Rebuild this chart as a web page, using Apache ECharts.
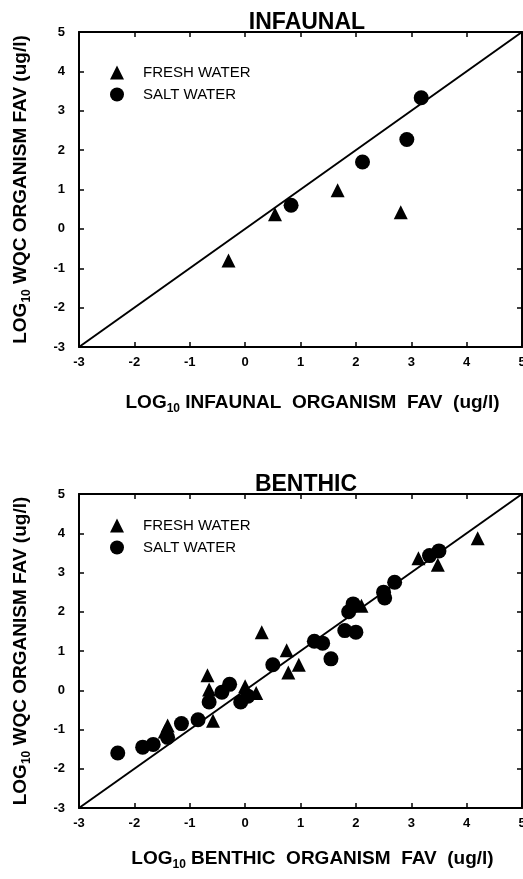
<!DOCTYPE html>
<html>
<head>
<meta charset="utf-8">
<script src="https://cdn.jsdelivr.net/npm/echarts@6/dist/echarts.min.js"></script>
<style>
  html, body { margin: 0; padding: 0; background: #fff; }
  #chart { width: 523px; height: 879px; }
</style>
</head>
<body>
<div id="chart"></div>
<script>
// Log10 final acute values: x = organism FAV, y = water quality criterion FAV
const axisRange = [-3, 5];
const infaunalFresh = [[-0.30, -0.80], [0.54, 0.37], [1.67, 0.98], [2.81, 0.42]];
const infaunalSalt  = [[0.83, 0.60], [2.12, 1.70], [2.92, 2.27], [3.18, 3.33]];
const benthicFresh = [
  [4.20, 3.87], [3.13, 3.36], [3.48, 3.20], [2.10, 2.15], [0.30, 1.48],
  [0.75, 1.02], [0.97, 0.65], [0.78, 0.45], [-0.68, 0.38], [-0.65, 0.02],
  [0.00, 0.10], [0.20, -0.07], [-0.58, -0.78], [-1.40, -0.90], [-1.45, -1.05]
];
const benthicSalt = [
  [3.50, 3.55], [3.33, 3.43], [2.70, 2.75], [2.50, 2.50], [2.52, 2.35],
  [1.95, 2.20], [1.87, 2.00], [1.80, 1.52], [2.00, 1.48], [1.25, 1.25],
  [1.40, 1.20], [1.55, 0.80], [0.50, 0.65], [-0.28, 0.15], [-0.42, -0.05],
  [-0.65, -0.30], [-0.08, -0.30], [0.05, -0.15], [-0.85, -0.75], [-1.15, -0.85],
  [-1.40, -1.20], [-1.66, -1.38], [-1.85, -1.45], [-2.30, -1.60]
];
const unityLine = [[axisRange[0], axisRange[0]], [axisRange[1], axisRange[1]]];
const seriesNames = ['FRESH WATER', 'SALT WATER'];
const panelTitles = ['INFAUNAL', 'BENTHIC'];
const xNames = ['INFAUNAL', 'BENTHIC'];

const FONT = 'Liberation Sans';
const INK = '#000';

const grids = [
  { left: 79, right: 1, top: 32, height: 315, outerBoundsMode: 'none', containLabel: false },
  { left: 79, right: 1, top: 494, height: 314, outerBoundsMode: 'none', containLabel: false }
];

function nameStyle(extra) {
  return Object.assign({
    fontFamily: FONT, fontSize: 19, fontWeight: 'bold', color: INK,
    rich: {
      m: { fontFamily: FONT, fontSize: 19, fontWeight: 'bold', color: INK, lineHeight: 24 },
      sub: { fontFamily: FONT, fontSize: 12, fontWeight: 'bold', color: INK, lineHeight: 24, verticalAlign: 'bottom' }
    }
  }, extra || {});
}

function baseAxis(gridIndex, position, showLabels) {
  return {
    type: 'value', gridIndex: gridIndex, position: position,
    min: axisRange[0], max: axisRange[1], interval: 1,
    axisLine: { show: true, onZero: false, lineStyle: { color: INK, width: 2 } },
    axisTick: { show: true, inside: true, length: 5, lineStyle: { color: INK, width: 1.5 } },
    axisLabel: {
      show: showLabels, fontFamily: FONT, fontSize: 13, fontWeight: 'bold', color: INK
    },
    splitLine: { show: false }
  };
}

const xAxes = [], yAxes = [];
[0, 1].forEach(function (g) {
  const xb = baseAxis(g, 'bottom', true);
  xb.axisLabel.margin = 9;
  xb.name = '{m|LOG}{sub|10}{m| ' + xNames[g] + '  ORGANISM  FAV  (ug/l)}';
  xb.nameLocation = 'middle';
  xb.nameGap = g === 0 ? 44 : 39;
  xb.nameTextStyle = nameStyle({ padding: [0, 0, 0, 24] });
  xAxes.push(xb);
  xAxes.push(baseAxis(g, 'top', false));

  const yl = baseAxis(g, 'left', true);
  yl.axisLabel.margin = 14;
  yl.name = '{m|LOG}{sub|10}{m| WQC ORGANISM FAV (ug/l)}';
  yl.nameLocation = 'middle';
  yl.nameGap = 46;
  yl.nameTextStyle = nameStyle();
  yAxes.push(yl);
  yAxes.push(baseAxis(g, 'right', false));
});

function scatter(name, data, g, symbol, size) {
  return {
    type: 'scatter', name: name, data: data,
    xAxisIndex: g * 2, yAxisIndex: g * 2,
    symbol: symbol, symbolSize: size,
    itemStyle: { color: INK, opacity: 1 },
    emphasis: { disabled: true }
  };
}

const series = [];
[[infaunalFresh, infaunalSalt], [benthicFresh, benthicSalt]].forEach(function (pair, g) {
  series.push({
    type: 'line', data: unityLine, xAxisIndex: g * 2, yAxisIndex: g * 2,
    showSymbol: false, silent: true, lineStyle: { color: INK, width: 2 }, z: 1
  });
  series.push(scatter(seriesNames[0], pair[0], g, 'triangle', 14));
  series.push(scatter(seriesNames[1], pair[1], g, 'circle', 15));
});

function legendAt(top) {
  return {
    data: seriesNames, orient: 'vertical', left: 105, top: top,
    itemWidth: 14, itemHeight: 14, itemGap: 7,
    selectedMode: false,
    textStyle: { fontFamily: FONT, fontSize: 15, color: INK, padding: [0, 0, 0, 14] }
  };
}

const chart = echarts.init(document.getElementById('chart'), null, { renderer: 'canvas' });
chart.setOption({
  backgroundColor: '#fff',
  animation: false,
  title: [
    { text: panelTitles[0], left: 302, top: 6, textAlign: 'center',
      textStyle: { fontFamily: FONT, fontSize: 23, fontWeight: 'bold', color: INK } },
    { text: panelTitles[1], left: 301, top: 468, textAlign: 'center',
      textStyle: { fontFamily: FONT, fontSize: 23, fontWeight: 'bold', color: INK } }
  ],
  legend: [legendAt(60), legendAt(513)],
  grid: grids,
  xAxis: xAxes,
  yAxis: yAxes,
  series: series
});
</script>
</body>
</html>
